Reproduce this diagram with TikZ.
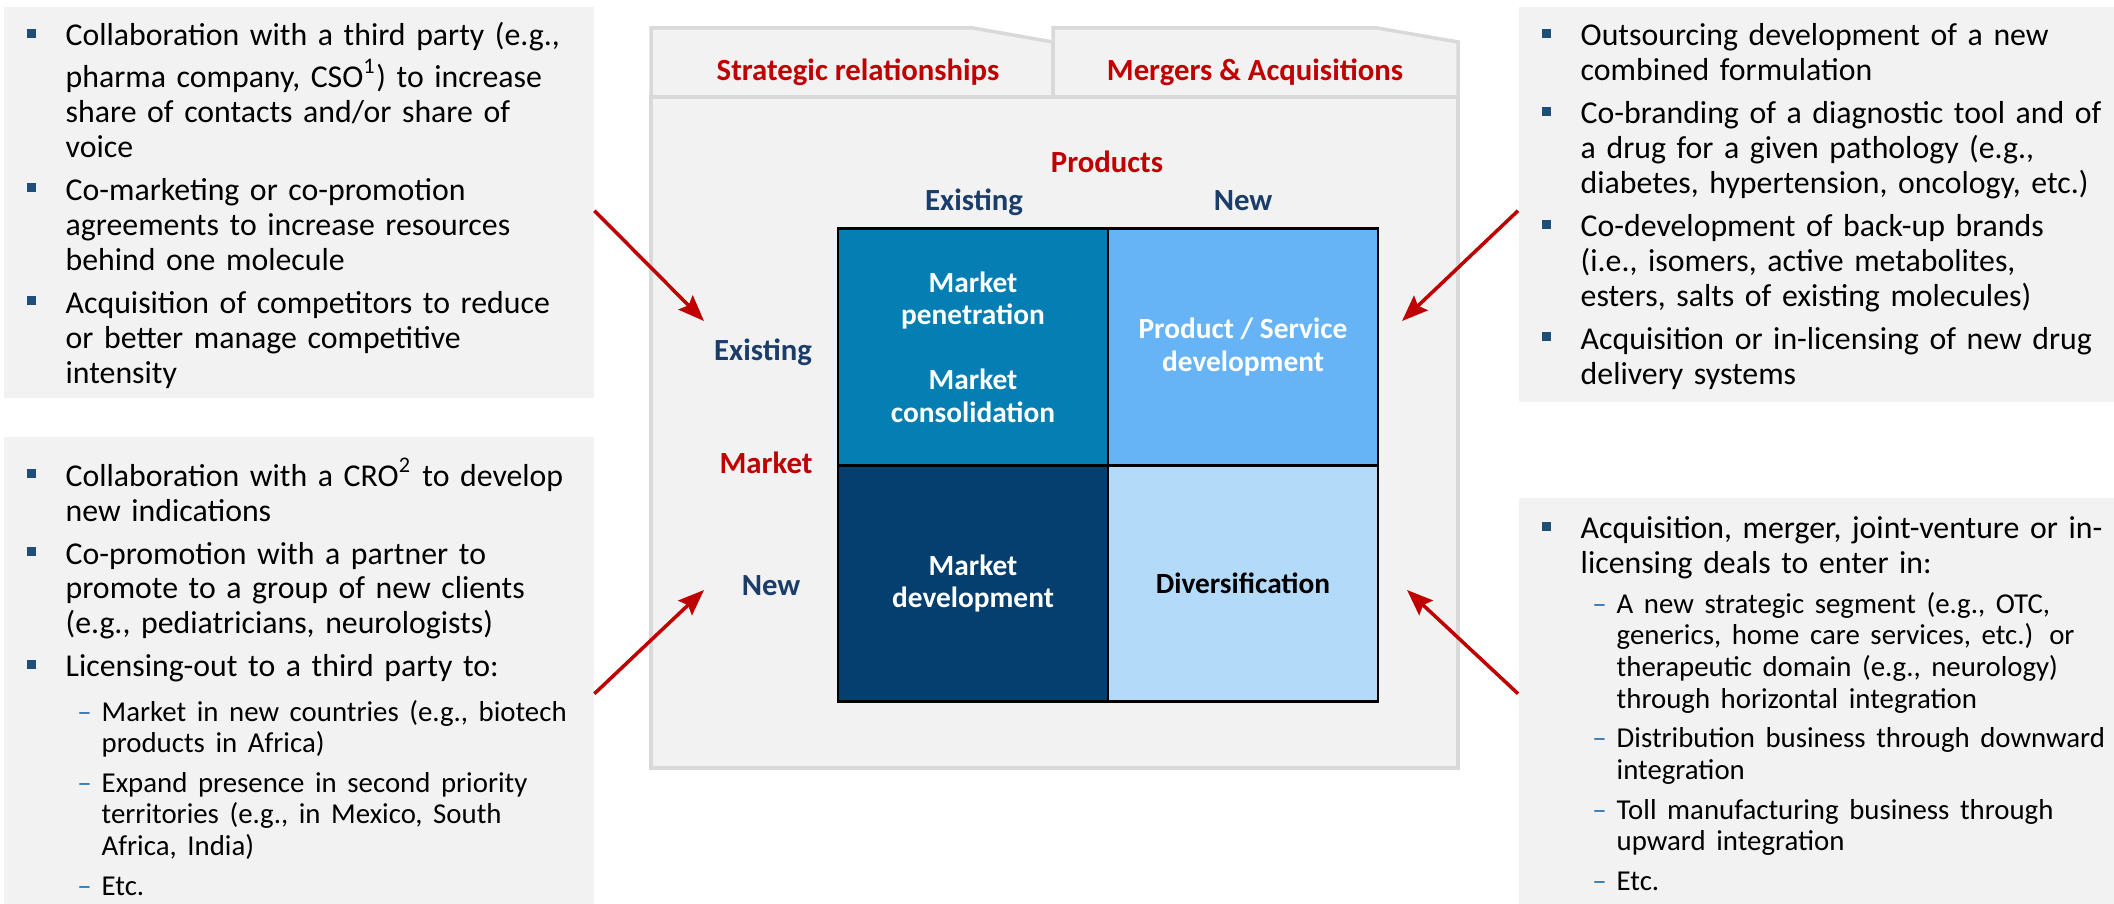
\documentclass[tikz,border=0pt]{standalone}
\usepackage{fontspec}
\setmainfont{Carlito}
\usetikzlibrary{arrows.meta,positioning}

\definecolor{panelgray}{HTML}{F2F2F2}
\definecolor{foldline}{HTML}{D9D9D9}
\definecolor{ansred}{HTML}{C00000}
\definecolor{axisblue}{HTML}{1B3D6A}
\definecolor{sqblue}{HTML}{1F4E79}
\definecolor{dashblue}{HTML}{2E75B6}
\definecolor{cellpen}{HTML}{047EB3}
\definecolor{cellprd}{HTML}{66B4F6}
\definecolor{celldev}{HTML}{043F6F}
\definecolor{celldiv}{HTML}{B4DAFA}

% font sizes (1cm = 100px of the slide)
\newcommand\bodyfont{\fontsize{9.05pt}{9.95pt}\selectfont}
\newcommand\subfont{\fontsize{8.2pt}{9.0pt}\selectfont}
\newcommand\labfont{\fontsize{8.75pt}{9.5pt}\selectfont\bfseries}
\newcommand\cellfont{\fontsize{8.35pt}{9.25pt}\selectfont\bfseries}

% list entries (the first one goes on with the line the node opens)
\newcommand\sqitem[1]{\leftskip=0.62cm\noindent
  \llap{\textcolor{sqblue}{\rule[0.08cm]{0.085cm}{0.09cm}}\hspace{0.30cm}}\strut#1\par}
\newcommand\dashitem[1]{\par\leftskip=0.98cm\noindent
  {\subfont\llap{\textcolor{dashblue}{--}\hspace{0.10cm}}\strut#1\par}}

\tikzset{
  panel/.style={fill=panelgray, draw=none, inner sep=0pt, anchor=north west},
  paneltext/.style={anchor=north west, inner sep=0pt, text width=6.2cm,
    font=\bodyfont, execute at begin node={\raggedright\parskip=0.08cm}},
  fold/.style={fill=panelgray, draw=foldline, line width=1pt, line join=miter},
  tablab/.style={font=\labfont, text=ansred, anchor=base, inner sep=0pt},
  axislab/.style={font=\labfont, text=axisblue, anchor=base, inner sep=0pt},
  cell/.style={draw=black, line width=0.8pt, minimum width=2.7cm, minimum height=2.365cm,
    inner sep=0pt, outer sep=0pt, align=center, font=\cellfont, text=white},
  redarrow/.style={draw=ansred, line width=1pt, -{Stealth[length=0.26cm, width=0.2cm, inset=0.04cm]}}
}

\begin{document}
\begin{tikzpicture}
  \useasboundingbox (0,0) rectangle (21.14,9.04);

  % Coordinates
  \coordinate (LT) at (0.03, 8.98);
  \coordinate (LB) at (0.03, 4.68);
  \coordinate (RT) at (15.18, 8.98);
  \coordinate (RB) at (15.18, 4.07);
  \coordinate (tLT) at (7.04, 5.83);
  \coordinate (tRT) at (14.02, 5.83);
  \coordinate (tLB) at (7.04, 3.14);
  \coordinate (tRB) at (14.07, 3.14);

  % Side panels
  \node[panel, minimum width=5.90cm, minimum height=3.91cm] (lt) at (LT) {};
  \node[panel, minimum width=5.90cm, minimum height=4.68cm] (lb) at (LB) {};
  \node[panel, minimum width=5.96cm, minimum height=3.95cm] (rt) at (RT) {};
  \node[panel, minimum width=5.96cm, minimum height=4.07cm] (rb) at (RB) {};

  \node[paneltext] (ltT) at (0.03, 8.835) {%
    \sqitem{Collaboration with a third party (e.g.,\newline pharma company, CSO\textsuperscript{1}) to increase\newline share of contacts and/or share of\newline voice}
    \sqitem{Co-marketing or co-promotion\newline agreements to increase resources\newline behind one molecule}
    \sqitem{Acquisition of competitors to reduce\newline or better manage competitive\newline intensity}};
  \node[paneltext] (lbT) at (0.03, 4.465) {%
    \sqitem{Collaboration with a CRO\textsuperscript{2} to develop\newline new indications}
    \sqitem{Co-promotion with a partner to\newline promote to a group of new clients\newline (e.g., pediatricians, neurologists)}
    \sqitem{Licensing-out to a third party to:}
    \dashitem{Market in new countries (e.g., biotech\newline products in Africa)}
    \dashitem{Expand presence in second priority\newline territories (e.g., in Mexico, South\newline Africa, India)}
    \dashitem{Etc.}};
  \node[paneltext] (rtT) at (15.18, 8.835) {%
    \sqitem{Outsourcing development of a new\newline combined formulation}
    \sqitem{Co-branding of a diagnostic tool and of\newline a drug for a given pathology (e.g.,\newline diabetes, hypertension, oncology, etc.)}
    \sqitem{Co-development of back-up brands\newline (i.e., isomers, active metabolites,\newline esters, salts of existing molecules)}
    \sqitem{Acquisition or in-licensing of new drug\newline delivery systems}};
  \node[paneltext] (rbT) at (15.18, 3.905) {%
    \sqitem{Acquisition, merger, joint-venture or in-\newline licensing deals to enter in:}
    \dashitem{A new strategic segment (e.g., OTC,\newline generics, home care services, etc.) or\newline therapeutic domain (e.g., neurology)\newline through horizontal integration}
    \dashitem{Distribution business through downward\newline integration}
    \dashitem{Toll manufacturing business through\newline upward integration}
    \dashitem{Etc.}};

  % Folder with two tabs
  \filldraw[fold] (6.51,8.07) -- (6.51,8.76) -- (9.73,8.76) -- (10.53,8.62) -- (10.53,8.07) -- cycle;
  \filldraw[fold] (10.53,8.07) -- (10.53,8.76) -- (13.77,8.76) -- (14.58,8.62) -- (14.58,8.07) -- cycle;
  \filldraw[fold] (6.51,1.36) rectangle (14.58,8.07);
  \node[tablab] (tabSR) at (8.58, 8.23) {Strategic relationships};
  \node[tablab] (tabMA) at (12.55, 8.23) {Mergers \& Acquisitions};

  % Axis labels
  \node[tablab] (prodLab) at (11.07, 7.31) {Products};
  \node[axislab] (colOld) at (9.74, 6.93) {Existing};
  \node[axislab] (colNew) at (12.43, 6.93) {New};
  \node[axislab] (rowOld) at (7.63, 5.43) {Existing};
  \node[tablab] (mktLab) at (7.66, 4.30) {Market};
  \node[axislab] (rowNew) at (7.71, 3.08) {New};

  % Ansoff matrix
  \node[cell, fill=cellpen] (pen) at (9.73, 5.57) {Market\\penetration\\[0.325cm]Market\\consolidation};
  \node[cell, fill=cellprd, right=0cm of pen] (prd) {Product / Service\\development};
  \node[cell, fill=celldev, below=0cm of pen] (dev) {Market\\development};
  \node[cell, fill=celldiv, text=black, right=0cm of dev] (div) {Diversification};

  % Arrows
  \coordinate (ltOut) at ([yshift=-0.085cm]lt.east);
  \coordinate (lbOut) at ([yshift=-0.23cm]lb.east);
  \coordinate (rtOut) at ([yshift=-0.065cm]rt.west);
  \coordinate (rbOut) at ([yshift=0.075cm]rb.west);
  \draw[redarrow] (ltOut) -- (tLT);
  \draw[redarrow] (lbOut) -- (tLB);
  \draw[redarrow] (rtOut) -- (tRT);
  \draw[redarrow] (rbOut) -- (tRB);
\end{tikzpicture}
\end{document}
